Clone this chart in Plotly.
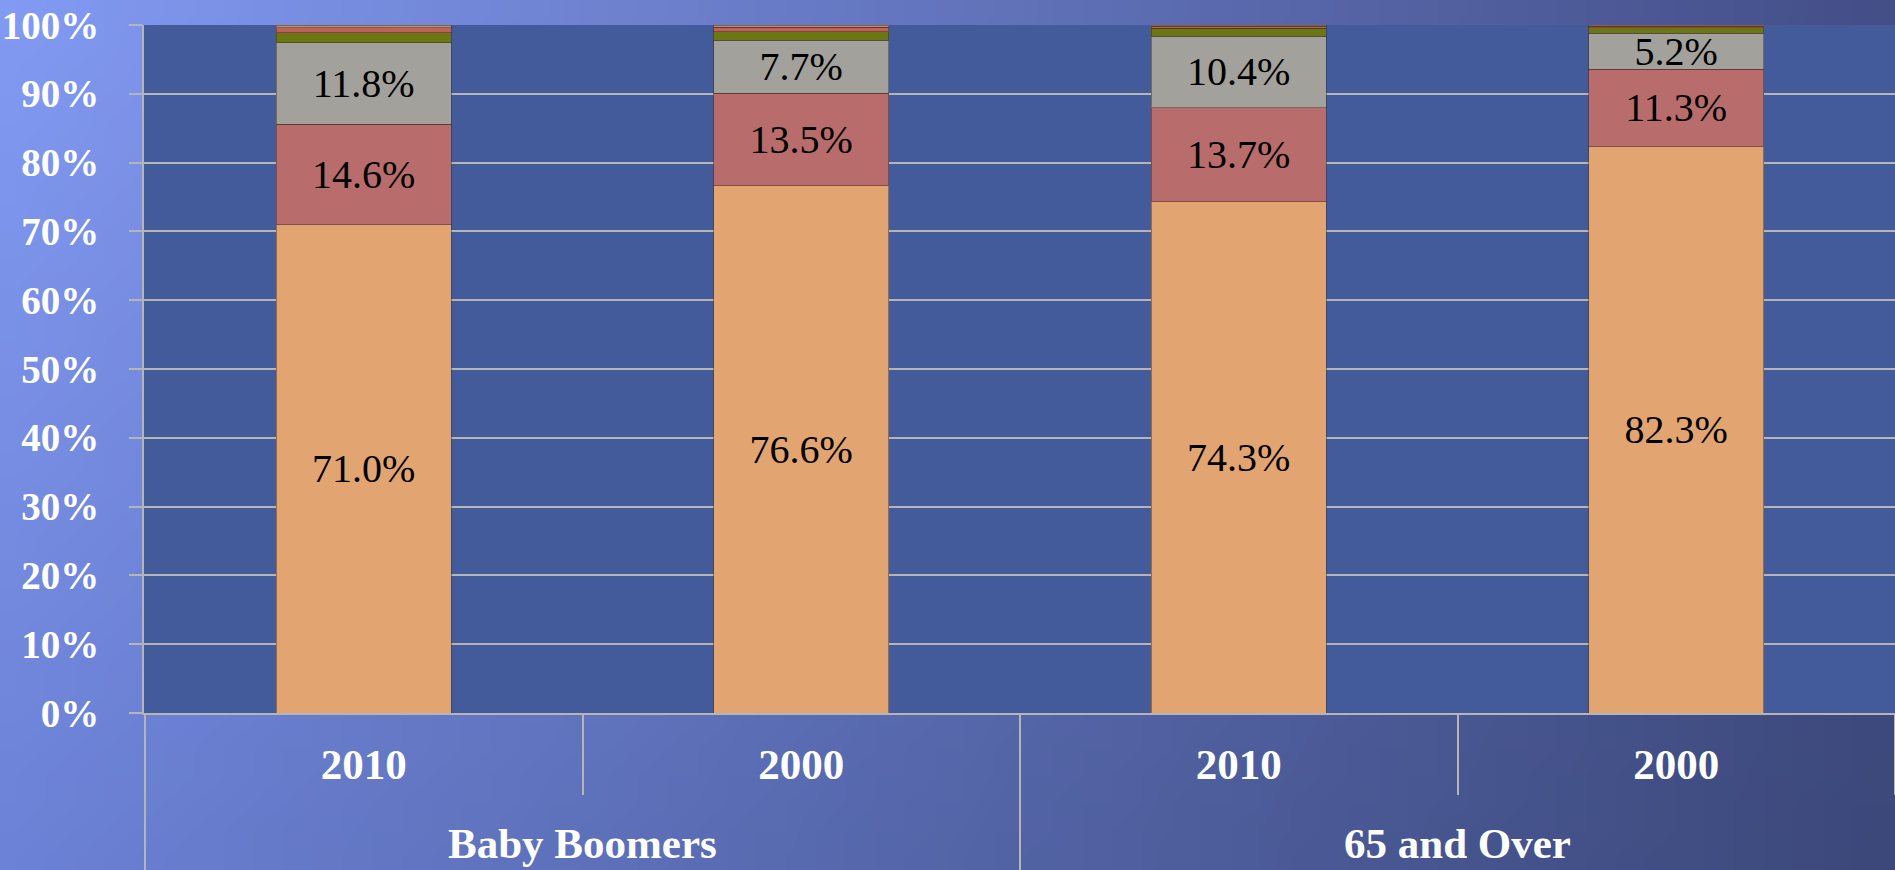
import base64
import struct
import zlib

import plotly.graph_objects as go

# ---------------- data ----------------
groups = ["Baby Boomers", "Baby Boomers", "65 and Over", "65 and Over"]
years = ["2010", "2000", "2010", "2000"]

series_names = ["White", "Black", "Hispanic", "Asian", "Other", "Multiple"]
series_values = [
    [71.0, 76.6, 74.3, 82.3],
    [14.6, 13.5, 13.7, 11.3],
    [11.8, 7.7, 10.4, 5.2],
    [1.5, 1.2, 1.1, 0.8],
    [0.7, 0.7, 0.3, 0.2],
    [0.4, 0.3, 0.2, 0.2],
]
labelled = [True, True, True, False, False, False]
series_colors = ["#E2A571", "#B96C6C", "#A3A19B", "#6B7614", "#C0605A", "#B89078"]

y_tickvals = [0, 10, 20, 30, 40, 50, 60, 70, 80, 90, 100]
y_ticktext = [f"{v}%" for v in y_tickvals]

# ---------------- page geometry ----------------
W, H = 1895, 870
ML, MR, MT, MB = 144, 0, 25, 157
PW, PH = W - ML - MR, H - MT - MB
AXIS_GREY = "#B5B5B5"
LABEL_FONT = dict(family="Liberation Serif", size=43, color="white", weight="bold")


# ---------------- background gradient image (generated PNG) ----------------
def make_gradient_png(w, h, tl, tr, bl, br):
    rows = []
    for j in range(h):
        v = j / (h - 1)
        row = bytearray([0])
        for i in range(w):
            u = i / (w - 1)
            px = []
            for k in range(3):
                top = tl[k] * (1 - u) + tr[k] * u
                bot = bl[k] * (1 - u) + br[k] * u
                px.append(int(round(top * (1 - v) + bot * v)))
            row.extend(px)
        rows.append(bytes(row))
    raw = b"".join(rows)

    def chunk(t, d):
        return struct.pack(">I", len(d)) + t + d + struct.pack(">I", zlib.crc32(t + d) & 0xFFFFFFFF)

    png = (b"\x89PNG\r\n\x1a\n"
           + chunk(b"IHDR", struct.pack(">IIBBBBB", w, h, 8, 2, 0, 0, 0))
           + chunk(b"IDAT", zlib.compress(raw))
           + chunk(b"IEND", b""))
    return "data:image/png;base64," + base64.b64encode(png).decode()


bg_uri = make_gradient_png(64, 32,
                           (0x82, 0x9A, 0xF2), (0x44, 0x4F, 0x88),
                           (0x6C, 0x82, 0xD6), (0x3C, 0x48, 0x7A))

# unique category keys; the axis shows only the year
cat_keys = [f"{g}|{y}" for g, y in zip(groups, years)]

# group spans (category indices) for the group labels and dividers
group_spans = []
for i, g in enumerate(groups):
    if group_spans and group_spans[-1][0] == g:
        group_spans[-1][2] = i
    else:
        group_spans.append([g, i, i])

# ---------------- figure ----------------
fig = go.Figure()
for name, vals, lab, col in zip(series_names, series_values, labelled, series_colors):
    fig.add_trace(go.Bar(
        x=cat_keys,
        y=vals,
        name=name,
        marker=dict(color=col, line=dict(color="rgba(60,40,20,0.45)", width=1)),
        text=[f"{v:.1f}%" for v in vals] if lab else None,
        textposition="inside" if lab else "none",
        insidetextanchor="middle",
        textangle=0,
        textfont=dict(family="Liberation Serif", size=40, color="black"),
        hoverinfo="y+name",
    ))

shapes = [dict(
    type="rect", xref="paper", yref="paper", x0=0, x1=1, y0=0, y1=1,
    fillcolor="#445B9B", line=dict(width=0), layer="below",
)]
annotations = []
for g, i0, i1 in group_spans:
    shapes.append(dict(
        type="line", xref="x", yref="paper",
        x0=i0 - 0.5, x1=i0 - 0.5, y0=0, y1=-MB / PH,
        line=dict(color=AXIS_GREY, width=2),
    ))
    annotations.append(dict(
        text=g, xref="x", yref="paper", x=(i0 + i1) / 2, y=-0.19,
        xanchor="center", yanchor="middle", showarrow=False, font=LABEL_FONT,
    ))

fig.update_layout(
    width=W, height=H,
    barmode="stack",
    bargap=0.6,
    showlegend=False,
    paper_bgcolor="#5A6CB8",
    plot_bgcolor="rgba(0,0,0,0)",
    margin=dict(l=ML, r=MR, t=MT, b=MB, pad=0, autoexpand=False),
    uniformtext=dict(minsize=40, mode="show"),
    font=dict(family="Liberation Serif", color="white"),
    images=[dict(
        source=bg_uri, xref="paper", yref="paper",
        x=-ML / PW, y=1 + MT / PH, sizex=W / PW, sizey=H / PH,
        xanchor="left", yanchor="top", sizing="stretch", layer="below",
    )],
    shapes=shapes,
    annotations=annotations,
)

fig.update_yaxes(
    range=[0, 100],
    tickvals=y_tickvals,
    ticktext=y_ticktext,
    automargin=False,
    showgrid=True, gridcolor=AXIS_GREY, gridwidth=2,
    showline=True, linecolor=AXIS_GREY, linewidth=2,
    ticks="outside", ticklen=13, tickwidth=2, tickcolor=AXIS_GREY,
    ticklabelstandoff=22,
    tickfont=dict(family="Liberation Serif", size=39, color="white", weight="bold"),
    zeroline=False,
)

fig.update_xaxes(
    type="category",
    tickmode="array",
    tickvals=cat_keys,
    ticktext=years,
    automargin=False,
    showline=True, linecolor=AXIS_GREY, linewidth=2,
    ticks="outside", ticklen=80, tickwidth=2, tickcolor=AXIS_GREY,
    tickson="boundaries",
    ticklabelstandoff=12,
    tickfont=LABEL_FONT,
)

fig.write_html(
    "out.html",
    config={"displayModeBar": False},
    post_script="document.body.style.margin='0';document.body.style.overflow='hidden';",
)
